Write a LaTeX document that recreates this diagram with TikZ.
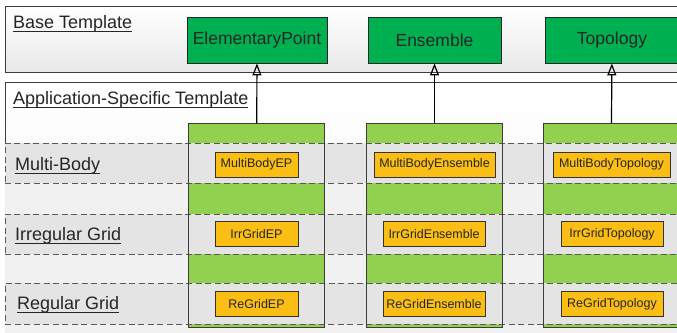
\documentclass[tikz,border=0pt]{standalone}
\usepackage{fontspec}
\setmainfont{Liberation Sans}
\usetikzlibrary{arrows.meta,positioning}
\definecolor{basegreen}{RGB}{0,176,80}
\definecolor{bandgreen}{RGB}{146,208,80}
\definecolor{epyellow}{RGB}{250,190,20}
\definecolor{rowgray}{RGB}{228,228,228}
\definecolor{gapgray}{RGB}{241,241,241}
\definecolor{edgegray}{RGB}{60,60,60}
\newcommand{\ulined}[1]{\setbox0\hbox{#1}\rlap{\rule[-4pt]{\wd0}{1.1pt}}\box0}

\begin{document}
\begin{tikzpicture}[
    x=1pt, y=-1pt,
    font=\fontsize{17.5}{20}\selectfont,
    template/.style={
		rectangle,
		draw=edgegray,
		line width=1.1pt,
		top color=white,
		bottom color=gray!18,
		anchor=north west,
		minimum width=700pt,
		inner sep=0pt
	},
	title/.style={
		anchor=base west,
		inner sep=0pt,
		font=\fontsize{18}{20}\selectfont,
		text=black!85
	},
	base/.style={
		rectangle,
		draw=black!85,
		line width=0.8pt,
		fill=basegreen,
		minimum height=46pt,
		text=black!85
	},
	column/.style={
		rectangle,
		fill=bandgreen,
		anchor=north,
		minimum width=135pt,
		minimum height=204pt,
		inner sep=0pt
	},
	row/.style={
		rectangle,
		draw=black!65,
		line width=0.9pt,
		dash pattern=on 6pt off 3.5pt,
		anchor=north west,
		minimum width=700pt,
		inner sep=0pt
	},
	special/.style={
		rectangle,
		draw=black!80,
		line width=0.8pt,
		fill=epyellow,
		minimum height=25pt,
		inner sep=1pt,
		font=\fontsize{12.5}{14}\selectfont,
		text=black!85
	},
	inherit/.style={
		draw=black,
		line width=1.2pt,
		-{Triangle[open, length=12pt, width=9pt]}
	}
  ]
  \clip (0,0) rectangle (677,332);

  % the two template boxes
  \node [template, minimum height=66pt] (basebox) at (5,6) {};
  \node [template, minimum height=260pt, top color=white, bottom color=gray!10] (appbox) at (5,82) {};
  \node [title] (basetitle) at (13,28) {\ulined{Base Template}};
  \node [title] (apptitle) at (13,104) {\ulined{Application-Specific Template}};

  % base classes
  \node [base, minimum width=140pt] (ep) at (257,40) {ElementaryPoint};
  \node [base, minimum width=133pt] (ens) at (434.5,40) {Ensemble};
  \node [base, minimum width=134pt] (topo) at (612,40) {Topology};

  % light gaps between the rows, then the green columns
  \node [row, draw=none, fill=gapgray, minimum height=31pt] (gapone) at (5,183) {};
  \node [row, draw=none, fill=gapgray, minimum height=29pt] (gaptwo) at (5,254) {};
  \node [row, draw=none, fill=gapgray, minimum height=10pt] (gapthree) at (5,324) {};

  \node [column] (epcol) at (256.5,123) {};
  \node [column] (enscol) at (434.5,123) {};
  \node [column] (topocol) at (611.5,123) {};

  % rows go over the columns
  \node [row, fill=rowgray, minimum height=40pt] (multibody) at (5,143) {};
  \node [row, fill=rowgray, minimum height=40pt] (irrgrid) at (5,214) {};
  \node [row, fill=rowgray, minimum height=41pt] (regrid) at (5,283) {};

  % outlines of the columns
  \draw [edgegray, line width=0.9pt] (epcol.north west) rectangle (epcol.south east);
  \draw [edgegray, line width=0.9pt] (enscol.north west) rectangle (enscol.south east);
  \draw [edgegray, line width=0.9pt] (topocol.north west) rectangle (topocol.south east);

  \node [title] (mbtitle) at (15,170) {\ulined{Multi-Body}};
  \node [title] (irrtitle) at (15,240) {\ulined{Irregular Grid}};
  \node [title] (retitle) at (17,309) {\ulined{Regular Grid}};

  % specialised classes
  \node [special, minimum width=83pt] (mbep) at (256.5,164.5) {MultiBodyEP};
  \node [special, minimum width=121pt] (mbens) at (434.5,164.5) {MultiBodyEnsemble};
  \node [special, minimum width=117pt] (mbtopo) at (611.5,164.5) {MultiBodyTopology};

  \node [special, minimum width=83pt] (irrep) at (256.5,234) {IrrGridEP};
  \node [special, minimum width=102pt] (irrens) at (434,234) {IrrGridEnsemble};
  \node [special, minimum width=102pt] (irrtopo) at (612,234) {IrrGridTopology};

  \node [special, minimum width=83pt] (reep) at (256.5,304) {ReGridEP};
  \node [special, minimum width=102pt] (reens) at (434,304) {ReGridEnsemble};
  \node [special, minimum width=102pt] (retopo) at (612,304) {ReGridTopology};

  \draw [inherit] (epcol) -- (ep);
  \draw [inherit] (enscol.north) -- (ens);
  \draw [inherit] (topocol.north) -- (topo);

\end{tikzpicture}
\end{document}
